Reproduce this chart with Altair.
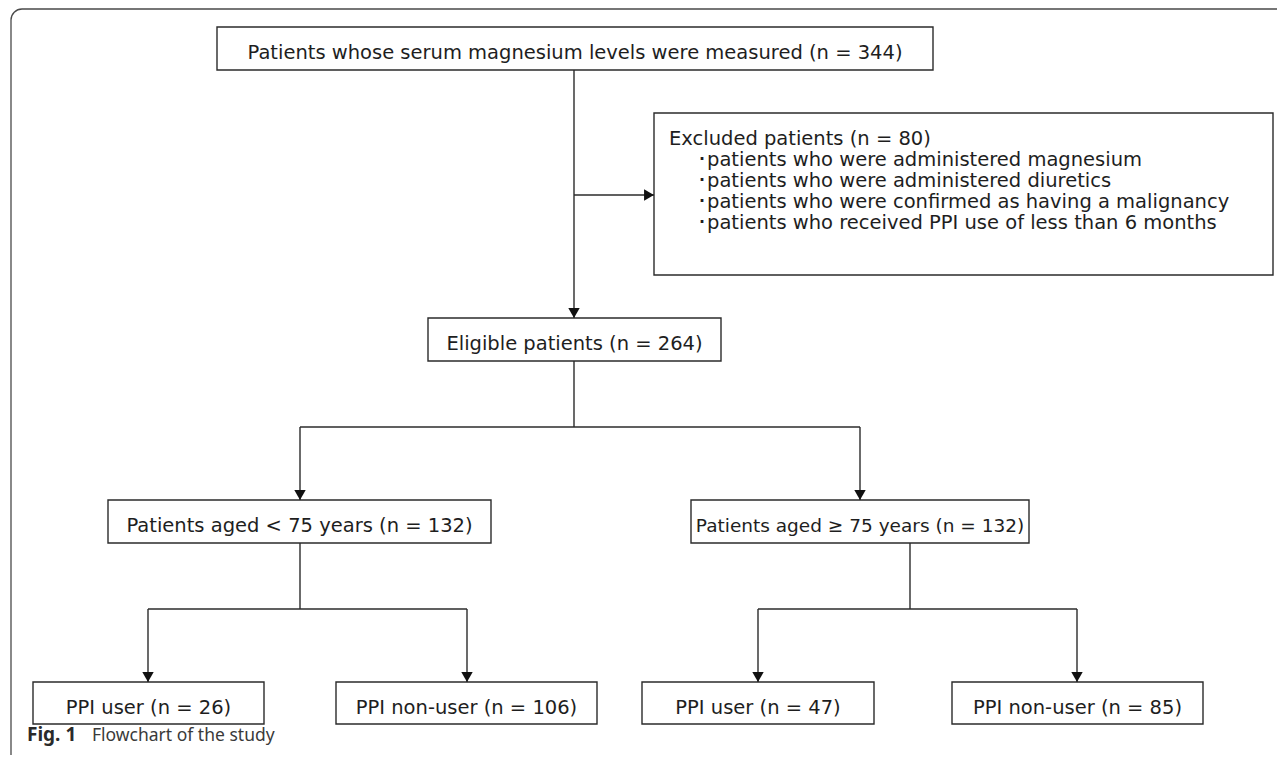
import altair as alt
import pandas as pd

# ---- content -------------------------------------------------------------
box_labels = [
    "Patients whose serum magnesium levels were measured (n = 344)",
    "Eligible patients (n = 264)",
    "Patients aged < 75 years (n = 132)",
    "Patients aged \u2265 75 years (n = 132)",
    "PPI user (n = 26)",
    "PPI non-user (n = 106)",
    "PPI user (n = 47)",
    "PPI non-user (n = 85)",
]
box_x0 = [217, 428, 108, 691, 33, 336, 642, 952]
box_x1 = [933, 721, 491, 1029, 264, 597, 874, 1203]
box_y0 = [27, 318, 500, 500, 682, 682, 682, 682]
box_y1 = [70, 361, 543, 543, 724, 724, 724, 724]

excl_title = "Excluded patients (n = 80)"
excl_items = [
    "\uff65patients who were administered magnesium",
    "\uff65patients who were administered diuretics",
    "\uff65patients who were confirmed as having a malignancy",
    "\uff65patients who received PPI use of less than 6 months",
]
excl_title_x, excl_title_y = 669, 145
excl_item_x = 697
excl_item_y = [166, 187, 208, 229]
excl_box = dict(x0=654, x1=1273, y0=113, y1=275)

seg_x = [574, 574, 574, 300, 300, 860, 300, 148, 148, 467, 910, 758, 758, 1077]
seg_y = [70, 195, 361, 427, 427, 427, 543, 609, 609, 609, 543, 609, 609, 609]
seg_x2 = [574, 654, 574, 860, 300, 860, 300, 467, 148, 467, 910, 1077, 758, 1077]
seg_y2 = [318, 195, 427, 427, 500, 500, 609, 609, 682, 682, 609, 609, 682, 682]

arrow_x = [574, 300, 860, 148, 467, 758, 1077]
arrow_y = [318, 500, 500, 682, 682, 682, 682]
arrow_r_x = [654]
arrow_r_y = [195]

caption_bold = "Fig. 1"
caption_text = "Flowchart of the study"

# ---- scales (pixel-like coordinates) -------------------------------------
W, H = 1269, 747
xs = alt.Scale(domain=[8, 8 + W], nice=False, zero=False)
ys = alt.Scale(domain=[8, 8 + H], nice=False, zero=False, reverse=True)
X = lambda f: alt.X(f, type="quantitative", scale=xs, axis=None)
Y = lambda f: alt.Y(f, type="quantitative", scale=ys, axis=None)

LINE = "#2b2b2b"
TXT = "#1e1e1e"
FONT = "DejaVu Sans"
FS = 19.5

boxes = pd.DataFrame(dict(label=box_labels, x0=box_x0, x1=box_x1, y0=box_y0, y1=box_y1))
boxes["cx"] = (boxes.x0 + boxes.x1) / 2
boxes["ty"] = (boxes.y0 + boxes.y1) / 2 + 10.5
boxes["fs"] = [18.5 if "\u2265" in s else FS for s in boxes.label]

frame = pd.DataFrame(dict(x0=[11], x1=[1400], y0=[9], y1=[900]))
frame_l = alt.Chart(frame).mark_rect(
    fill=None, stroke="#4a4a4a", strokeWidth=1.3, cornerRadius=11, clip=True
).encode(x=X("x0"), x2="x1", y=Y("y0"), y2="y1")

segs = pd.DataFrame(dict(x=seg_x, y=seg_y, x2=seg_x2, y2=seg_y2))
seg_l = alt.Chart(segs).mark_rule(color=LINE, strokeWidth=1.4).encode(
    x=X("x"), x2="x2", y=Y("y"), y2="y2"
)

box_l = alt.Chart(boxes).mark_rect(
    fill="white", stroke=LINE, strokeWidth=1.4
).encode(x=X("x0"), x2="x1", y=Y("y0"), y2="y1")

box_t = alt.Chart(boxes).mark_text(
    font=FONT, color=TXT, align="center", baseline="alphabetic"
).encode(
    x=X("cx"), y=Y("ty"), text="label",
    size=alt.Size("fs", type="quantitative", scale=None, legend=None),
)

eb = pd.DataFrame([excl_box])
excl_b = alt.Chart(eb).mark_rect(fill="white", stroke=LINE, strokeWidth=1.4).encode(
    x=X("x0"), x2="x1", y=Y("y0"), y2="y1"
)
etitle = pd.DataFrame(dict(text=[excl_title], x=[excl_title_x], y=[excl_title_y]))
excl_tt = alt.Chart(etitle).mark_text(
    font=FONT, fontSize=FS, color=TXT, align="left", baseline="alphabetic"
).encode(x=X("x"), y=Y("y"), text="text")

eitems = pd.DataFrame(dict(text=excl_items, y=excl_item_y))
eitems["x"] = excl_item_x
excl_t = alt.Chart(eitems).mark_text(
    font=FONT, fontSize=FS, color=TXT, align="left", baseline="alphabetic"
).encode(x=X("x"), y=Y("y"), text="text")

ad = pd.DataFrame(dict(x=arrow_x, y=arrow_y))
ad["yc"] = ad.y - 5
arr_d = alt.Chart(ad).mark_point(
    shape="triangle-down", filled=True, color="#111111", size=130, opacity=1
).encode(x=X("x"), y=Y("yc"))

ar = pd.DataFrame(dict(x=arrow_r_x, y=arrow_r_y))
ar["xc"] = ar.x - 5
arr_r = alt.Chart(ar).mark_point(
    shape="triangle-right", filled=True, color="#111111", size=130, opacity=1
).encode(x=X("xc"), y=Y("y"))

cap = pd.DataFrame(dict(t=[caption_bold], x=[27], y=[741]))
cap_b = alt.Chart(cap).mark_text(
    font="Noto Sans", fontSize=19, fontWeight="bold", color="#2a2a2a",
    align="left", baseline="alphabetic"
).encode(x=X("x"), y=Y("y"), text="t")
cap2 = pd.DataFrame(dict(t=[caption_text], x=[92], y=[741]))
cap_t = alt.Chart(cap2).mark_text(
    font="Noto Sans", fontSize=17.5, color="#3a3a3a", align="left", baseline="alphabetic"
).encode(x=X("x"), y=Y("y"), text="t")

chart = alt.layer(
    frame_l, seg_l, box_l, excl_b, box_t, excl_tt, excl_t, arr_d, arr_r, cap_b, cap_t
).properties(
    width=W, height=H, autosize=alt.AutoSizeParams(type="none"), padding=0
).configure_view(strokeWidth=0)

chart.save("out.html", embed_options={"renderer": "svg", "actions": False})
